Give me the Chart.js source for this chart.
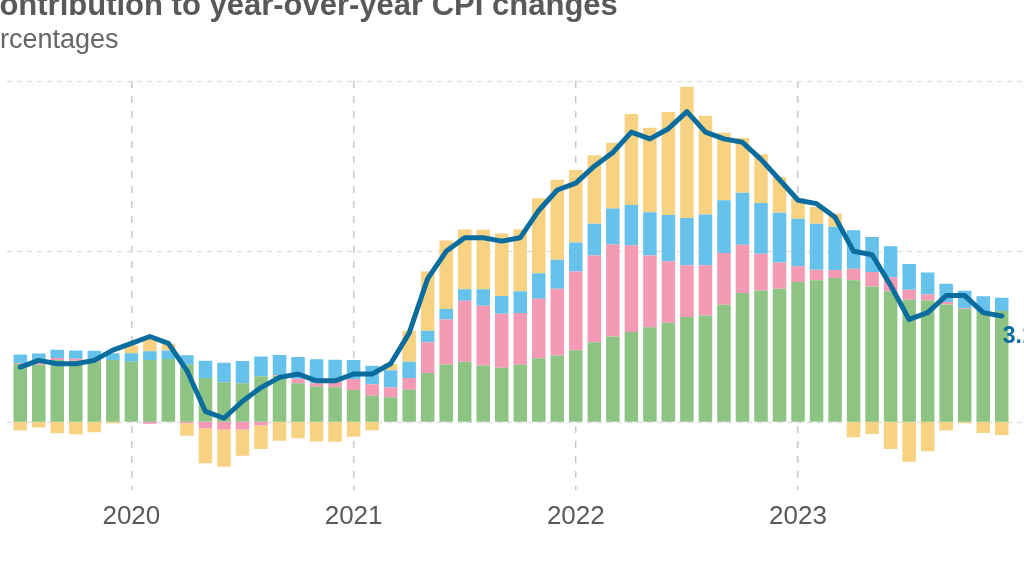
<!DOCTYPE html>
<html>
<head>
<meta charset="utf-8">
<script src="https://cdn.jsdelivr.net/npm/chart.js@4.4.1/dist/chart.umd.min.js"></script>
<style>
  html, body { margin: 0; padding: 0; background: #fff; overflow: hidden; }
  #wrap { position: relative; width: 1024px; height: 576px; overflow: hidden; }
  #title {
    position: absolute; left: -23px; top: -11px; white-space: nowrap;
    font: bold 31px "Liberation Sans", Arial, sans-serif; line-height: 31px; color: #595959;
  }
  #subtitle {
    position: absolute; left: -33px; top: 26px; white-space: nowrap;
    font: 27px "Liberation Sans", Arial, sans-serif; line-height: 27px; color: #666;
  }
  #chart { position: absolute; left: 0; top: 0; }
</style>
</head>
<body>
<div id="wrap">
  <canvas id="chart" width="1024" height="576"></canvas>
  <div id="title">Contribution to year-over-year CPI changes</div>
  <div id="subtitle">Percentages</div>
</div>
<script>
// monthly observations, Jun 2019 - Nov 2023
const months = [
  'Jun 2019','Jul 2019','Aug 2019','Sep 2019','Oct 2019','Nov 2019','Dec 2019',
  'Jan 2020','Feb 2020','Mar 2020','Apr 2020','May 2020','Jun 2020','Jul 2020','Aug 2020','Sep 2020','Oct 2020','Nov 2020','Dec 2020',
  'Jan 2021','Feb 2021','Mar 2021','Apr 2021','May 2021','Jun 2021','Jul 2021','Aug 2021','Sep 2021','Oct 2021','Nov 2021','Dec 2021',
  'Jan 2022','Feb 2022','Mar 2022','Apr 2022','May 2022','Jun 2022','Jul 2022','Aug 2022','Sep 2022','Oct 2022','Nov 2022','Dec 2022',
  'Jan 2023','Feb 2023','Mar 2023','Apr 2023','May 2023','Jun 2023','Jul 2023','Aug 2023','Sep 2023','Oct 2023','Nov 2023'
];

// year gridlines sit on the December bars
const yearTickMonths = ['Dec 2019', 'Dec 2020', 'Dec 2021', 'Dec 2022'];
const yearTickLabels = ['2020', '2021', '2022', '2023'];
const yGridValues = [0, 5, 10];

const coreServices = [
  1.70, 1.67, 1.81, 1.79, 1.75, 1.81, 1.76,
  1.81, 1.84, 1.67, 1.28, 1.16, 1.13, 1.33, 1.35, 1.13, 1.03, 1.01, 0.93,
  0.76, 0.72, 0.94, 1.43, 1.68, 1.76, 1.65, 1.58, 1.67, 1.86, 1.94, 2.10,
  2.33, 2.50, 2.63, 2.77, 2.90, 3.07, 3.12, 3.43, 3.78, 3.85, 3.90, 4.10,
  4.15, 4.22, 4.15, 3.97, 3.82, 3.58, 3.56, 3.44, 3.31, 3.22, 3.25
];
const coreGoods = [
  0.02, 0.05, 0.06, 0.06, 0.03, 0.00, 0.00,
  -0.06, 0.00, -0.05, -0.19, -0.23, -0.23, -0.11, 0.02, 0.13, 0.10, 0.25, 0.32,
  0.34, 0.28, 0.34, 0.90, 1.32, 1.79, 1.75, 1.59, 1.52, 1.75, 1.96, 2.31,
  2.55, 2.70, 2.55, 2.11, 1.81, 1.52, 1.47, 1.52, 1.41, 1.08, 0.77, 0.46,
  0.31, 0.23, 0.34, 0.42, 0.42, 0.29, 0.17, 0.07, 0.02, 0.00, 0.00
];
const food = [
  0.25, 0.28, 0.24, 0.24, 0.30, 0.20, 0.25,
  0.26, 0.25, 0.28, 0.51, 0.57, 0.65, 0.58, 0.59, 0.64, 0.70, 0.56, 0.56,
  0.54, 0.51, 0.48, 0.34, 0.31, 0.34, 0.49, 0.52, 0.64, 0.75, 0.85, 0.85,
  0.93, 1.06, 1.18, 1.27, 1.36, 1.39, 1.49, 1.55, 1.53, 1.49, 1.46, 1.40,
  1.35, 1.27, 1.13, 1.03, 0.91, 0.76, 0.65, 0.54, 0.51, 0.46, 0.39
];
const energy = [
  -0.26, -0.17, -0.34, -0.37, -0.31, -0.05, 0.23,
  0.35, 0.20, -0.36, -1.03, -1.09, -0.77, -0.69, -0.56, -0.49, -0.58, -0.59, -0.44,
  -0.25, 0.18, 0.91, 1.74, 2.01, 1.75, 1.74, 1.83, 1.82, 2.20, 2.35, 2.13,
  2.01, 1.93, 2.67, 2.48, 3.02, 3.85, 2.90, 1.98, 1.61, 1.43, 1.05, 0.60,
  0.49, 0.39, -0.46, -0.36, -0.80, -1.18, -0.87, -0.26, -0.05, -0.33, -0.39
];
const headlineCPI = [
  1.6, 1.8, 1.7, 1.7, 1.8, 2.1, 2.3,
  2.5, 2.3, 1.5, 0.3, 0.1, 0.6, 1.0, 1.3, 1.4, 1.2, 1.2, 1.4,
  1.4, 1.7, 2.6, 4.2, 5.0, 5.4, 5.4, 5.3, 5.4, 6.2, 6.8, 7.0,
  7.5, 7.9, 8.5, 8.3, 8.6, 9.1, 8.5, 8.3, 8.2, 7.7, 7.1, 6.5,
  6.4, 6.0, 5.0, 4.9, 4.0, 3.0, 3.2, 3.7, 3.7, 3.2, 3.1
];

const lineColor = '#0a6d9d';

/* dashed horizontal gridlines across the whole width */
const hGrid = {
  id: 'hGrid',
  beforeDatasetsDraw(chart) {
    const {ctx, scales} = chart;
    ctx.save();
    ctx.strokeStyle = '#dcdcdc';
    ctx.lineWidth = 1.3;
    ctx.setLineDash([5, 5]);
    yGridValues.forEach(v => {
      const py = Math.round(scales.y.getPixelForValue(v)) + 0.5;
      ctx.beginPath();
      ctx.moveTo(7, py);
      ctx.lineTo(chart.width, py);
      ctx.stroke();
    });
    ctx.restore();
  }
};

/* value label at the end of the headline line */
const endLabel = {
  id: 'endLabel',
  afterDatasetsDraw(chart) {
    const idx = chart.data.datasets.findIndex(d => d.type === 'line');
    const pts = chart.getDatasetMeta(idx).data;
    const last = pts[pts.length - 1];
    const {ctx} = chart;
    ctx.save();
    ctx.fillStyle = lineColor;
    ctx.font = 'bold 23px "Liberation Sans", Arial, sans-serif';
    ctx.textAlign = 'left';
    ctx.textBaseline = 'middle';
    ctx.fillText(headlineCPI[headlineCPI.length - 1].toFixed(1), last.x + 1, last.y + 21);
    ctx.restore();
  }
};

const barStyle = { barPercentage: 0.73, categoryPercentage: 1.0, borderWidth: 0, order: 1 };

new Chart(document.getElementById('chart'), {
  type: 'bar',
  data: {
    labels: months,
    datasets: [
      Object.assign({ label: 'Core services', data: coreServices, backgroundColor: '#8dc483' }, barStyle),
      Object.assign({ label: 'Core goods', data: coreGoods, backgroundColor: '#f49ab5' }, barStyle),
      Object.assign({ label: 'Food', data: food, backgroundColor: '#66c2ea' }, barStyle),
      Object.assign({ label: 'Energy', data: energy, backgroundColor: '#f8d283' }, barStyle),
      {
        type: 'line',
        label: 'Headline CPI',
        data: headlineCPI,
        stack: 'headline',
        borderColor: lineColor,
        borderWidth: 5,
        pointRadius: 0,
        tension: 0,
        borderJoinStyle: 'round',
        borderCapStyle: 'round',
        order: 0
      }
    ]
  },
  options: {
    responsive: false,
    animation: false,
    layout: { padding: { left: 11, right: 13, top: 81, bottom: 33 } },
    plugins: {
      legend: { display: false },
      tooltip: { enabled: false }
    },
    scales: {
      x: {
        stacked: true,
        offset: true,
        grid: {
          offset: false,
          drawTicks: false,
          lineWidth: 1.5,
          color: c => (c.tick && yearTickMonths.includes(months[c.tick.value])) ? '#c8c8c8' : 'rgba(0,0,0,0)'
        },
        border: { display: false, dash: [7, 8] },
        ticks: {
          autoSkip: false,
          maxRotation: 0,
          padding: 11,
          color: '#595959',
          font: { size: 26, family: '"Liberation Sans Narrow", "Liberation Sans", Arial, sans-serif' },
          callback: (value) => {
            const i = yearTickMonths.indexOf(months[value]);
            return i >= 0 ? yearTickLabels[i] : '';
          }
        }
      },
      y: {
        stacked: true,
        min: -2,
        max: 10,
        display: false
      }
    }
  },
  plugins: [hGrid, endLabel]
});
</script>
</body>
</html>
